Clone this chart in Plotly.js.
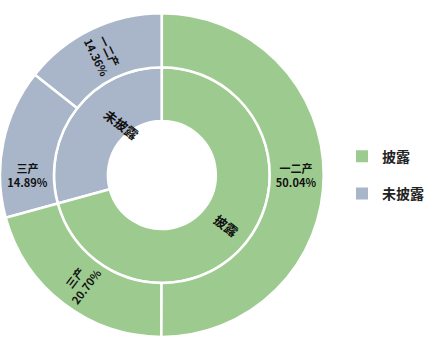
<!DOCTYPE html>
<html><head><meta charset="utf-8">
<script src="https://cdn.plot.ly/plotly-3.0.1.min.js"></script>
<style>html,body{margin:0;padding:0;background:#fff}#chart{width:429px;height:354px}</style>
</head><body><div id="chart"></div>
<script>
// data
const groups = ["未披露", "披露"];
const groupColors = ["#a9b6c9", "#9dcb8f"];
const innerLabels = ["一二产", "三产", "三产", "一二产"];
const innerParents = ["未披露", "未披露", "披露", "披露"];
const innerValues = [14.36, 14.89, 20.70, 50.04];
const pctLabels = ["14.36%", "14.89%", "20.70%", "50.04%"];

const W = 429, H = 354;
const dom = { x: [0, 0.78], y: [0.031, 0.98] };

const ids = ["root"], labels = [""], parents = [""], values = [], colors = ["rgba(255,255,255,0)"], texts = [""];
const total = innerValues.reduce((a, b) => a + b, 0);
values.push(total);
const groupSums = [];
groups.forEach((g, gi) => {
  ids.push(g); labels.push(g); parents.push("root");
  let s = 0; innerParents.forEach((p, i) => { if (p === g) s += innerValues[i]; });
  groupSums.push(s);
  values.push(s); colors.push(groupColors[gi]); texts.push("");
});
innerLabels.forEach((l, i) => {
  ids.push(innerParents[i] + "-" + l + i); labels.push(l); parents.push(innerParents[i]);
  values.push(innerValues[i]);
  colors.push(groupColors[groups.indexOf(innerParents[i])]);
  texts.push("<b>" + l + "</b><br><b>" + pctLabels[i] + "</b>");
});

// inner ring labels as rotated annotations (radial), positions derived from the values
const pw = (dom.x[1] - dom.x[0]) * W, ph = (dom.y[1] - dom.y[0]) * H;
const R = Math.min(pw, ph) / 2;
const cx = (dom.x[0] + dom.x[1]) / 2 * W, cy = H - (dom.y[0] + dom.y[1]) / 2 * H;
const annotations = [];
let acc = 0;
groups.forEach((g, gi) => {
  const mid = acc + groupSums[gi] / 2; acc += groupSums[gi];
  const theta = -mid / total * 2 * Math.PI;
  const rm = R * 0.5;
  const dx = Math.sin(theta), dy = -Math.cos(theta);
  let ang = Math.atan2(dy, dx) * 180 / Math.PI;
  if (ang > 90) ang -= 180; if (ang <= -90) ang += 180;
  annotations.push({
    x: (cx + rm * dx) / W, y: 1 - (cy + rm * dy) / H, xref: "paper", yref: "paper",
    text: "<b>" + g + "</b>", showarrow: false, textangle: ang,
    font: { family: "Noto Sans CJK SC", size: 13, color: "#111" }
  });
});

const data = [{
  type: "sunburst",
  ids: ids, labels: labels, parents: parents, values: values,
  branchvalues: "total", sort: false, rotation: 90,
  text: texts, texttemplate: "%{text}",
  insidetextorientation: "radial",
  leaf: { opacity: 1 },
  marker: { colors: colors, line: { color: "#ffffff", width: 2.5 } },
  textfont: { family: "Noto Sans CJK SC", size: 11, color: "#111" },
  domain: dom,
  hoverinfo: "none", showlegend: false
}];
groups.slice().reverse().forEach((g, i) => {
  const gi = groups.indexOf(g);
  data.push({
    type: "scatter", x: [null], y: [null], mode: "markers", name: g,
    legendgroup: "g" + i,
    marker: { symbol: "square", size: 12, color: groupColors[gi] },
    showlegend: true, hoverinfo: "none"
  });
});

const layout = {
  width: W, height: H,
  margin: { l: 0, r: 0, t: 0, b: 0 },
  paper_bgcolor: "#fff", plot_bgcolor: "#fff",
  xaxis: { visible: false }, yaxis: { visible: false },
  showlegend: true,
  annotations: annotations,
  legend: { x: 0.825, y: 0.505, yanchor: "middle", xanchor: "left",
    font: { family: "Noto Sans CJK SC", size: 14, color: "#222", weight: "bold" },
    itemsizing: "constant", tracegroupgap: 16 }
};
Plotly.newPlot("chart", data, layout, { staticPlot: true });
</script></body></html>
